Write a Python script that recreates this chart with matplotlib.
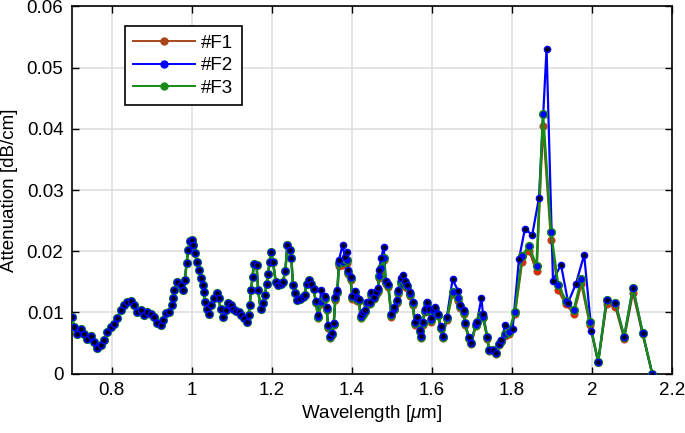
import numpy as np
import matplotlib
matplotlib.use('Agg')
import matplotlib.pyplot as plt
from matplotlib.lines import Line2D

plt.rcParams['font.family'] = ['Liberation Sans', 'DejaVu Sans']
plt.rcParams['mathtext.fontset'] = 'custom'
plt.rcParams['mathtext.it'] = 'Liberation Sans:italic'

# part of the spectrum where the three fibres overlap
common_x = [0.700, 0.706, 0.714, 0.722, 0.731, 0.739, 0.747, 0.756, 0.764, 0.772,
            0.781, 0.789, 0.797, 0.806, 0.814, 0.822, 0.831, 0.839, 0.847, 0.856,
            0.864, 0.872, 0.881, 0.889, 0.897, 0.906, 0.914, 0.922, 0.927, 0.935,
            0.943, 0.950, 0.952, 0.956, 0.964, 0.972, 0.978, 0.983, 0.987, 0.991,
            0.995, 1.000, 1.003, 1.008, 1.013, 1.018, 1.022, 1.027, 1.030, 1.033,
            1.037, 1.043, 1.049, 1.055, 1.062, 1.068, 1.072, 1.078, 1.085, 1.091,
            1.098, 1.103, 1.110, 1.117, 1.124, 1.131, 1.137, 1.142, 1.145, 1.148,
            1.152, 1.155, 1.162, 1.166, 1.172, 1.178, 1.183, 1.187, 1.191, 1.195,
            1.198, 1.203, 1.210, 1.216, 1.222, 1.228, 1.234, 1.239, 1.245, 1.249,
            1.253, 1.258, 1.263, 1.270, 1.277, 1.282, 1.287, 1.292, 1.297, 1.305]
common_y = [0.0093, 0.0076, 0.0065, 0.0072, 0.0065, 0.0057, 0.0061, 0.0051, 0.0042, 0.0046,
            0.0054, 0.0068, 0.0076, 0.0081, 0.0090, 0.0104, 0.0112, 0.0117, 0.0119, 0.0112,
            0.0101, 0.0104, 0.0095, 0.0101, 0.0098, 0.0092, 0.0082, 0.0079, 0.0088, 0.0099,
            0.0101, 0.0112, 0.0123, 0.0136, 0.0150, 0.0145, 0.0136, 0.0153, 0.0180, 0.0202,
            0.0216, 0.0219, 0.0210, 0.0197, 0.0183, 0.0169, 0.0156, 0.0145, 0.0134, 0.0117,
            0.0106, 0.0098, 0.0112, 0.0123, 0.0132, 0.0123, 0.0105, 0.0092, 0.0104, 0.0115,
            0.0112, 0.0105, 0.0102, 0.0101, 0.0096, 0.0090, 0.0084, 0.0095, 0.0112, 0.0136,
            0.0157, 0.0179, 0.0178, 0.0136, 0.0106, 0.0115, 0.0128, 0.0146, 0.0163, 0.0183,
            0.0199, 0.0183, 0.0150, 0.0145, 0.0147, 0.0150, 0.0168, 0.0210, 0.0202, 0.0189,
            0.0145, 0.0131, 0.0120, 0.0121, 0.0125, 0.0128, 0.0147, 0.0153, 0.0147, 0.0138]

mid_x = [1.310, 1.316, 1.324, 1.332, 1.337, 1.341, 1.345, 1.351, 1.355, 1.359,
         1.364, 1.368, 1.377, 1.383, 1.387, 1.391, 1.397, 1.401, 1.408, 1.414,
         1.418, 1.422, 1.428, 1.434, 1.438, 1.445, 1.449, 1.456, 1.460, 1.466,
         1.468, 1.474, 1.480, 1.485, 1.491, 1.499, 1.505, 1.512, 1.516, 1.522,
         1.528, 1.534, 1.539, 1.545, 1.552, 1.558, 1.564, 1.570, 1.574, 1.578,
         1.582, 1.587, 1.593, 1.599, 1.603, 1.609, 1.616, 1.622, 1.627, 1.638,
         1.652, 1.666, 1.670, 1.680, 1.683, 1.693, 1.699, 1.710, 1.713, 1.724,
         1.728, 1.739, 1.743, 1.753, 1.760, 1.768, 1.774]
f1_mid = [0.0115, 0.0091, 0.0114, 0.0121, 0.0104, 0.0075, 0.0058, 0.0063, 0.0079, 0.0120,
          0.0131, 0.0176, 0.0178, 0.0183, 0.0181, 0.0162, 0.0153, 0.0122, 0.0130, 0.0119,
          0.0118, 0.0091, 0.0096, 0.0100, 0.0112, 0.0113, 0.0127, 0.0121, 0.0129, 0.0134,
          0.0156, 0.0168, 0.0185, 0.0147, 0.0142, 0.0093, 0.0104, 0.0115, 0.0130, 0.0146,
          0.0143, 0.0146, 0.0140, 0.0127, 0.0112, 0.0079, 0.0089, 0.0068, 0.0058, 0.0080,
          0.0100, 0.0112, 0.0101, 0.0085, 0.0100, 0.0103, 0.0094, 0.0072, 0.0058, 0.0088,
          0.0130, 0.0119, 0.0107, 0.0098, 0.0079, 0.0056, 0.0048, 0.0078, 0.0082, 0.0092,
          0.0091, 0.0057, 0.0037, 0.0037, 0.0032, 0.0047, 0.0051]
f2_mid = [0.0119, 0.0095, 0.0136, 0.0126, 0.0108, 0.0079, 0.0062, 0.0067, 0.0083, 0.0125,
          0.0136, 0.0185, 0.0210, 0.0190, 0.0199, 0.0169, 0.0158, 0.0127, 0.0135, 0.0123,
          0.0122, 0.0095, 0.0100, 0.0104, 0.0117, 0.0117, 0.0134, 0.0125, 0.0134, 0.0139,
          0.0169, 0.0189, 0.0207, 0.0152, 0.0147, 0.0098, 0.0108, 0.0120, 0.0136, 0.0156,
          0.0161, 0.0152, 0.0145, 0.0134, 0.0117, 0.0084, 0.0093, 0.0071, 0.0062, 0.0084,
          0.0106, 0.0117, 0.0106, 0.0090, 0.0105, 0.0108, 0.0098, 0.0077, 0.0062, 0.0093,
          0.0154, 0.0135, 0.0112, 0.0104, 0.0082, 0.0059, 0.0050, 0.0083, 0.0084, 0.0123,
          0.0098, 0.0059, 0.0038, 0.0039, 0.0033, 0.0049, 0.0054]
f3_mid = [0.0117, 0.0093, 0.0117, 0.0124, 0.0106, 0.0077, 0.0060, 0.0065, 0.0081, 0.0123,
          0.0134, 0.0180, 0.0183, 0.0187, 0.0185, 0.0166, 0.0156, 0.0125, 0.0133, 0.0121,
          0.0120, 0.0093, 0.0098, 0.0102, 0.0115, 0.0115, 0.0130, 0.0123, 0.0132, 0.0137,
          0.0160, 0.0172, 0.0189, 0.0150, 0.0145, 0.0096, 0.0106, 0.0118, 0.0133, 0.0150,
          0.0147, 0.0150, 0.0143, 0.0130, 0.0115, 0.0082, 0.0091, 0.0070, 0.0060, 0.0082,
          0.0103, 0.0115, 0.0104, 0.0088, 0.0103, 0.0106, 0.0096, 0.0075, 0.0060, 0.0091,
          0.0134, 0.0123, 0.0110, 0.0101, 0.0082, 0.0058, 0.0050, 0.0080, 0.0084, 0.0095,
          0.0093, 0.0059, 0.0038, 0.0038, 0.0033, 0.0049, 0.0053]

# long wavelength end, sampled differently for each fibre
f1_tail_x = [1.784, 1.793, 1.808, 1.826, 1.843, 1.862, 1.878, 1.898, 1.916, 1.935,
             1.955, 1.974, 1.995, 2.016, 2.037, 2.059, 2.081, 2.103, 2.127, 2.151]
f1_tail_y = [0.0062, 0.0065, 0.0097, 0.0183, 0.0201, 0.0167, 0.0405, 0.0219, 0.0136, 0.0113,
             0.0098, 0.0146, 0.0080, 0.0019, 0.0113, 0.0109, 0.0057, 0.0132, 0.0064, 0.0]
f2_tail_x = [1.784, 1.802, 1.818, 1.833, 1.851, 1.868, 1.887, 1.903, 1.923, 1.941,
             1.960, 1.981, 1.999, 2.016, 2.037, 2.059, 2.081, 2.103, 2.127, 2.151]
f2_tail_y = [0.0080, 0.0072, 0.0187, 0.0237, 0.0226, 0.0287, 0.0531, 0.0152, 0.0178, 0.0116,
             0.0146, 0.0194, 0.0070, 0.0019, 0.0120, 0.0115, 0.0060, 0.0140, 0.0067, 0.0]
f3_tail_x = [1.784, 1.793, 1.808, 1.826, 1.843, 1.862, 1.878, 1.898, 1.916, 1.935,
             1.955, 1.974, 1.995, 2.016, 2.037, 2.059, 2.081, 2.103, 2.127, 2.151]
f3_tail_y = [0.0064, 0.0068, 0.0101, 0.0192, 0.0209, 0.0175, 0.0425, 0.0231, 0.0145, 0.0119,
             0.0104, 0.0154, 0.0084, 0.0019, 0.0120, 0.0115, 0.0060, 0.0140, 0.0067, 0.0]

labels = ['#F1', '#F2', '#F3']
x_ticks = [0.8, 1.0, 1.2, 1.4, 1.6, 1.8, 2.0, 2.2]
x_tick_labels = ['0.8', '1', '1.2', '1.4', '1.6', '1.8', '2', '2.2']
y_ticks = [0, 0.01, 0.02, 0.03, 0.04, 0.05, 0.06]
y_tick_labels = ['0', '0.01', '0.02', '0.03', '0.04', '0.05', '0.06']

f1_x = common_x + mid_x + f1_tail_x
f1_y = common_y + f1_mid + f1_tail_y
f2_x = common_x + mid_x + f2_tail_x
f2_y = common_y + f2_mid + f2_tail_y
f3_x = common_x + mid_x + f3_tail_x
f3_y = common_y + f3_mid + f3_tail_y

brown = '#a8461a'
blue = '#0000ff'
green = '#178a17'

fig = plt.figure(figsize=(6.85, 4.33), dpi=100)
ax = fig.add_axes([0.1047, 0.1374, 0.876, 0.8476])

ax.plot(f1_x, f1_y, '-', color=brown, lw=1.6, zorder=2)
ax.plot(f1_x, f1_y, 'o', ms=5.2, mfc='#e8240c', mec=brown, mew=0.6, zorder=3)
ax.plot(f2_x, f2_y, '-', color=blue, lw=1.6, zorder=4)
ax.plot(f3_x, f3_y, '-', color=green, lw=1.8, zorder=5)
ax.plot(f3_x, f3_y, 'o', ms=5.6, mfc=blue, mec=green, mew=1.0, zorder=6)
ax.plot(f2_x, f2_y, 'o', ms=4.4, mfc='black', mec=blue, mew=1.1, zorder=7)

ax.set_xlim(0.7, 2.2)
ax.set_ylim(0, 0.06)
ax.set_xticks(x_ticks)
ax.set_xticklabels(x_tick_labels)
ax.set_yticks(y_ticks)
ax.set_yticklabels(y_tick_labels)
ax.tick_params(direction='in', top=True, right=True, labelsize=13.5, length=5, width=1, pad=6)
ax.grid(True, color='#dcdcdc', lw=1.1)
ax.set_axisbelow(True)
for s in ax.spines.values():
    s.set_linewidth(1.2)

ax.set_xlabel(r'Wavelength [$\mu$m]', fontsize=13.5, labelpad=3)
ax.set_ylabel('Attenuation [dB/cm]', fontsize=13.5, labelpad=6)

handles = [Line2D([], [], color=c, lw=1.4, marker='o', ms=5, mfc=c, mec=c)
           for c in [brown, blue, green]]
leg = ax.legend(handles, labels, loc='upper left', bbox_to_anchor=(0.1825, 0.94),
                bbox_transform=fig.transFigure, borderaxespad=0, fontsize=13.5,
                handlelength=3.3, handletextpad=0.3, labelspacing=0.3,
                fancybox=False, framealpha=1, edgecolor='black', borderpad=0.45)
leg.get_frame().set_linewidth(1.2)

fig.savefig('out.png', dpi=100)
